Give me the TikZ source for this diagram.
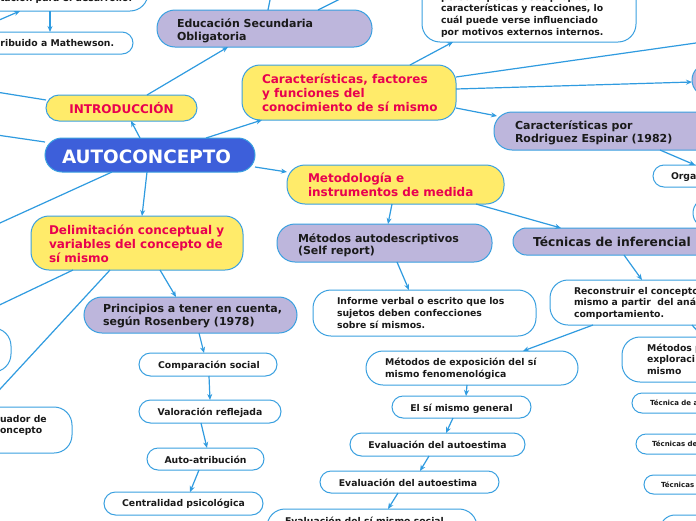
\documentclass[tikz,border=0pt]{standalone}
\usepackage{fontspec}
\setmainfont{DejaVu Sans}
\usetikzlibrary{arrows.meta}
\definecolor{bordc}{HTML}{3AA0E0}
\definecolor{linec}{HTML}{2F9BE0}
\definecolor{yelc}{HTML}{FFEB6A}
\definecolor{lavc}{HTML}{BDB6DC}
\definecolor{bluec}{HTML}{3D5FDA}
\definecolor{redc}{HTML}{E8004F}
\definecolor{txc}{HTML}{1A1A1A}
\tikzset{
 bxbase/.style={draw=bordc, line width=1pt, inner sep=0pt, outer sep=0pt},
 wbox/.style={bxbase, fill=white},
 ybox/.style={bxbase, fill=yelc},
 lbox/.style={bxbase, fill=lavc},
 bbox/.style={bxbase, fill=bluec},
 txtbase/.style={inner sep=0pt, outer sep=0pt, align=left},
 redt/.style={txtbase, text=redc, font=\fontsize{12}{14}\selectfont\bfseries},
 lavt/.style={txtbase, text=txc, font=\fontsize{11}{13}\selectfont\bfseries},
 wt/.style={txtbase, text=txc, font=\fontsize{9.3}{11.7}\selectfont\bfseries},
 bigt/.style={txtbase, text=white, font=\fontsize{18.4}{20}\selectfont\bfseries},
 smt/.style={txtbase, text=txc, font=\fontsize{7}{8.5}\selectfont\bfseries},
 conn/.style={draw=linec, line width=1.2pt},
 arr/.style={conn, -{Stealth[length=6pt,width=5pt]}},
}
\newcommand\bx[6]{%
  \pgfmathsetmacro\bxw{#5-(#3)}%
  \pgfmathsetmacro\bxh{#6-(#4)}%
  \pgfmathsetmacro\bxr{min(\bxh/2,18)}%
  \node[#2, minimum width=\bxw pt, minimum height=\bxh pt, rounded corners=\bxr pt] (#1) at ({(#3+#5)/2},{(#4+#6)/2}) {};%
}
% text node: base west = baseline of the LAST line
\newcommand\tx[5]{\node[#2, anchor=base west] (#1) at (#3,#4) {#5};}
\newcommand\tcn[5]{\node[#2, anchor=base] (#1) at (#3,#4) {#5};}
\begin{document}
\begin{tikzpicture}[x=1pt,y=-1pt]
\useasboundingbox (0,0) rectangle (696,520);
\fill[white] (0,0) rectangle (696,520);
\clip (0,0) rectangle (696,520);
% boxes
\bx{A}{wbox}{-30}{-30}{148}{11}
\bx{B}{wbox}{-30}{32}{133}{54}
\bx{C}{lbox}{157}{10}{372}{47}
\bx{D}{wbox}{422}{-40}{636}{42}
\bx{E}{ybox}{46}{95}{197}{121}
\bx{F}{bbox}{45}{138}{255}{172}
\bx{G}{ybox}{242}{65}{456}{120}
\bx{H}{lbox}{692}{64}{760}{96}
\bx{I}{lbox}{494}{112}{760}{150}
\bx{J}{wbox}{653}{165}{760}{187}
\bx{K}{wbox}{693}{198}{760}{228}
\bx{L}{ybox}{287}{165}{504}{204}
\bx{M}{lbox}{277}{224}{492}{262}
\bx{N}{lbox}{513}{228}{760}{255}
\bx{O}{wbox}{313}{290}{536}{336}
\bx{P}{wbox}{550}{280}{760}{325}
\bx{Q}{wbox}{366}{351}{578}{385}
\bx{R}{wbox}{392}{396}{531}{418}
\bx{S}{wbox}{350}{433}{525}{456}
\bx{T}{wbox}{320}{471}{499}{493}
\bx{U}{wbox}{267}{509}{477}{545}
\bx{V}{lbox}{84}{297}{297}{333}
\bx{W}{wbox}{139}{353}{277}{376}
\bx{X}{wbox}{139}{400}{281}{423}
\bx{Y}{wbox}{147}{448}{264}{470}
\bx{Z}{wbox}{104}{492}{263}{515}
\bx{AA}{ybox}{31}{216}{243}{270}
\bx{AB}{wbox}{-60}{328}{11}{372}
\bx{AC}{wbox}{-60}{407}{72}{453}
\bx{AD}{wbox}{622}{337}{760}{382}
\bx{AE}{wbox}{632}{393}{760}{413}
\bx{AF}{wbox}{636}{434}{760}{454}
\bx{AG}{wbox}{644}{475}{760}{494}
\bx{AH}{wbox}{660}{515}{760}{545}
% free ends
\coordinate (cl1) at (-10,24);
\coordinate (ct1) at (271,-5);
\coordinate (ct2) at (346,-4);
\coordinate (cl2) at (-10,91);
\coordinate (cl3) at (-10,134);
\coordinate (cl4) at (-10,227.5);
\coordinate (cr1) at (710,41);
\coordinate (cr2) at (702,336);
\coordinate (cl5) at (-10,309.5);
\coordinate (cl6) at (-10,400);
% connectors
\draw[arr] (cl1) -- ([xshift=50pt]A.south west);
\draw[arr] ([xshift=80pt]A.south west) -- ([xshift=80pt]B.north west);
\draw[arr] ([xshift=101pt]E.north west) -- ([xshift=71pt]C.south west);
\draw[conn] ([xshift=111pt]C.north west) -- (ct1);
\draw[conn] ([xshift=161pt]C.north west) -- (ct2);
\draw[conn] (cl2) -- ([yshift=-5pt]E.north west);
\draw[arr] ([xshift=95pt]F.north west) -- ([xshift=85pt]E.south west);
\draw[conn] (cl3) -- ([yshift=-4pt]F.north west);
\draw[conn] ([xshift=67pt]F.south west) -- (cl4);
\draw[arr] ([xshift=102pt]F.south west) -- ([xshift=111pt]AA.north west);
\draw[arr] ([yshift=-29pt]F.north east) -- ([yshift=-7pt]L.north west);
\draw[arr] ([xshift=161pt]F.north west) -- ([xshift=20pt]G.south west);
\draw[arr] ([xshift=168pt]G.north west) -- ([xshift=31pt]D.south west);
\draw[conn] ([yshift=-12pt]G.north east) -- (cr1);
\draw[arr] ([yshift=-24pt]G.north east) -- ([yshift=-18pt]H.north west);
\draw[arr] ([yshift=-43pt]G.north east) -- ([xshift=3pt,yshift=-4pt]I.north west);
\draw[arr] ([xshift=166pt]I.south west) -- ([xshift=42pt]J.north west);
\draw[arr] ([xshift=105pt]L.south west) -- ([xshift=111pt]M.north west);
\draw[arr] ([xshift=189pt]L.south west) -- ([xshift=48pt]N.north west);
\draw[arr] ([xshift=120pt]M.south west) -- ([xshift=96pt]O.north west);
\draw[arr] ([xshift=111pt]N.south west) -- ([xshift=92pt]P.north west);
\draw[arr] ([xshift=43pt]P.south west) -- ([xshift=157pt]Q.north west);
\draw[conn] ([xshift=142pt]P.south west) -- (cr2);
\draw[arr] ([xshift=101pt]Q.south west) -- ([xshift=74pt]R.north west);
\draw[arr] ([xshift=61pt]R.south west) -- ([xshift=96pt]S.north west);
\draw[arr] ([xshift=79pt]S.south west) -- ([xshift=100pt]T.north west);
\draw[arr] ([xshift=78pt]T.south west) -- ([xshift=121pt]U.north west);
\draw[arr] ([xshift=129pt]AA.south west) -- ([xshift=92pt]V.north west);
\draw[arr] ([xshift=115pt]V.south west) -- ([xshift=65pt]W.north west);
\draw[arr] ([xshift=70pt]W.south west) -- ([xshift=71pt]X.north west);
\draw[arr] ([xshift=62pt]X.south west) -- ([xshift=60pt]Y.north west);
\draw[arr] ([xshift=52pt]Y.south west) -- ([xshift=86pt]Z.north west);
\draw[conn] ([xshift=42pt]AA.south west) -- (cl5);
\draw[conn] ([xshift=79pt]AA.south west) -- (cl6);
% texts
\tx{A-t}{wt}{0}{1.5}{tación para el desarrollo.}
\tx{B-t}{wt}{0.5}{46.5}{ribuido a Mathewson.}
\tx{C-t}{lavt}{177}{40}{Educación Secundaria\\Obligatoria}
\tx{D-t}{wt}{441}{35.3}{persona percibe sus propias\\características y reacciones, lo\\cuál puede verse influenciado\\por motivos externos internos.}
\tcn{E-t}{redt}{121.5}{113}{INTRODUCCIÓN}
\tx{F-t}{bigt}{62}{163}{AUTOCONCEPTO}
\tx{G-t}{redt}{262}{111}{Características, factores\\y funciones del\\conocimiento de sí mismo}
\tx{I-t}{lavt}{515}{142}{Características por\\Rodriguez Espinar (1982)}
\tx{J-t}{wt}{671}{179}{Orga}
\tx{L-t}{redt}{308}{196}{Metodología e\\instrumentos de medida}
\tx{M-t}{lavt, font=\fontsize{11}{12.5}\selectfont\bfseries}{298}{254.5}{Métodos autodescriptivos\\(Self report)}
\tx{N-t}{lavt, font=\fontsize{12.3}{14}\selectfont\bfseries}{533}{246.5}{Técnicas de inferencial}
\tx{O-t}{wt, font=\fontsize{9.3}{12}\selectfont\bfseries}{337}{328}{Informe verbal o escrito que los\\sujetos deben confecciones\\sobre sí mismos.}
\tx{P-t}{wt}{574}{317.4}{Reconstruir el concepto\\mismo a partir\ \ del aná\\comportamiento.}
\tx{Q-t}{wt}{385}{377.2}{Métodos de exposición del sí\\mismo fenomenológica}
\tcn{R-t}{wt}{461.5}{411}{El sí mismo general}
\tcn{S-t}{wt}{437.5}{448.5}{Evaluación del autoestima}
\tcn{T-t}{wt}{408}{486}{Evaluación del autoestima}
\tx{U-t}{wt}{285}{524}{Evaluación del sí mismo social}
\tx{V-t}{lavt}{103}{325.3}{Principios a tener en cuenta,\\según Rosenbery (1978)}
\tcn{W-t}{wt}{209}{368}{Comparación social}
\tcn{X-t}{wt}{210}{415}{Valoración reflejada}
\tcn{Y-t}{wt}{205.5}{463}{Auto-atribución}
\tcn{Z-t}{wt}{183.5}{506}{Centralidad psicológica}
\tx{AA-t}{redt}{49}{262}{Delimitación conceptual y\\variables del concepto de\\sí mismo}
\tx{AC-t}{wt, font=\fontsize{9.3}{11}\selectfont\bfseries}{0}{433}{uador de\\oncepto}
\tx{AD-t}{wt, font=\fontsize{9.3}{11.3}\selectfont\bfseries}{647}{374.1}{Métodos p\\exploraci\\mismo}
\tx{AE-t}{smt}{650}{405}{Técnica de a}
\tx{AF-t}{smt}{652}{446}{Técnicas de}
\tx{AG-t}{smt}{661}{487}{Técnicas}
\end{tikzpicture}
\end{document}
